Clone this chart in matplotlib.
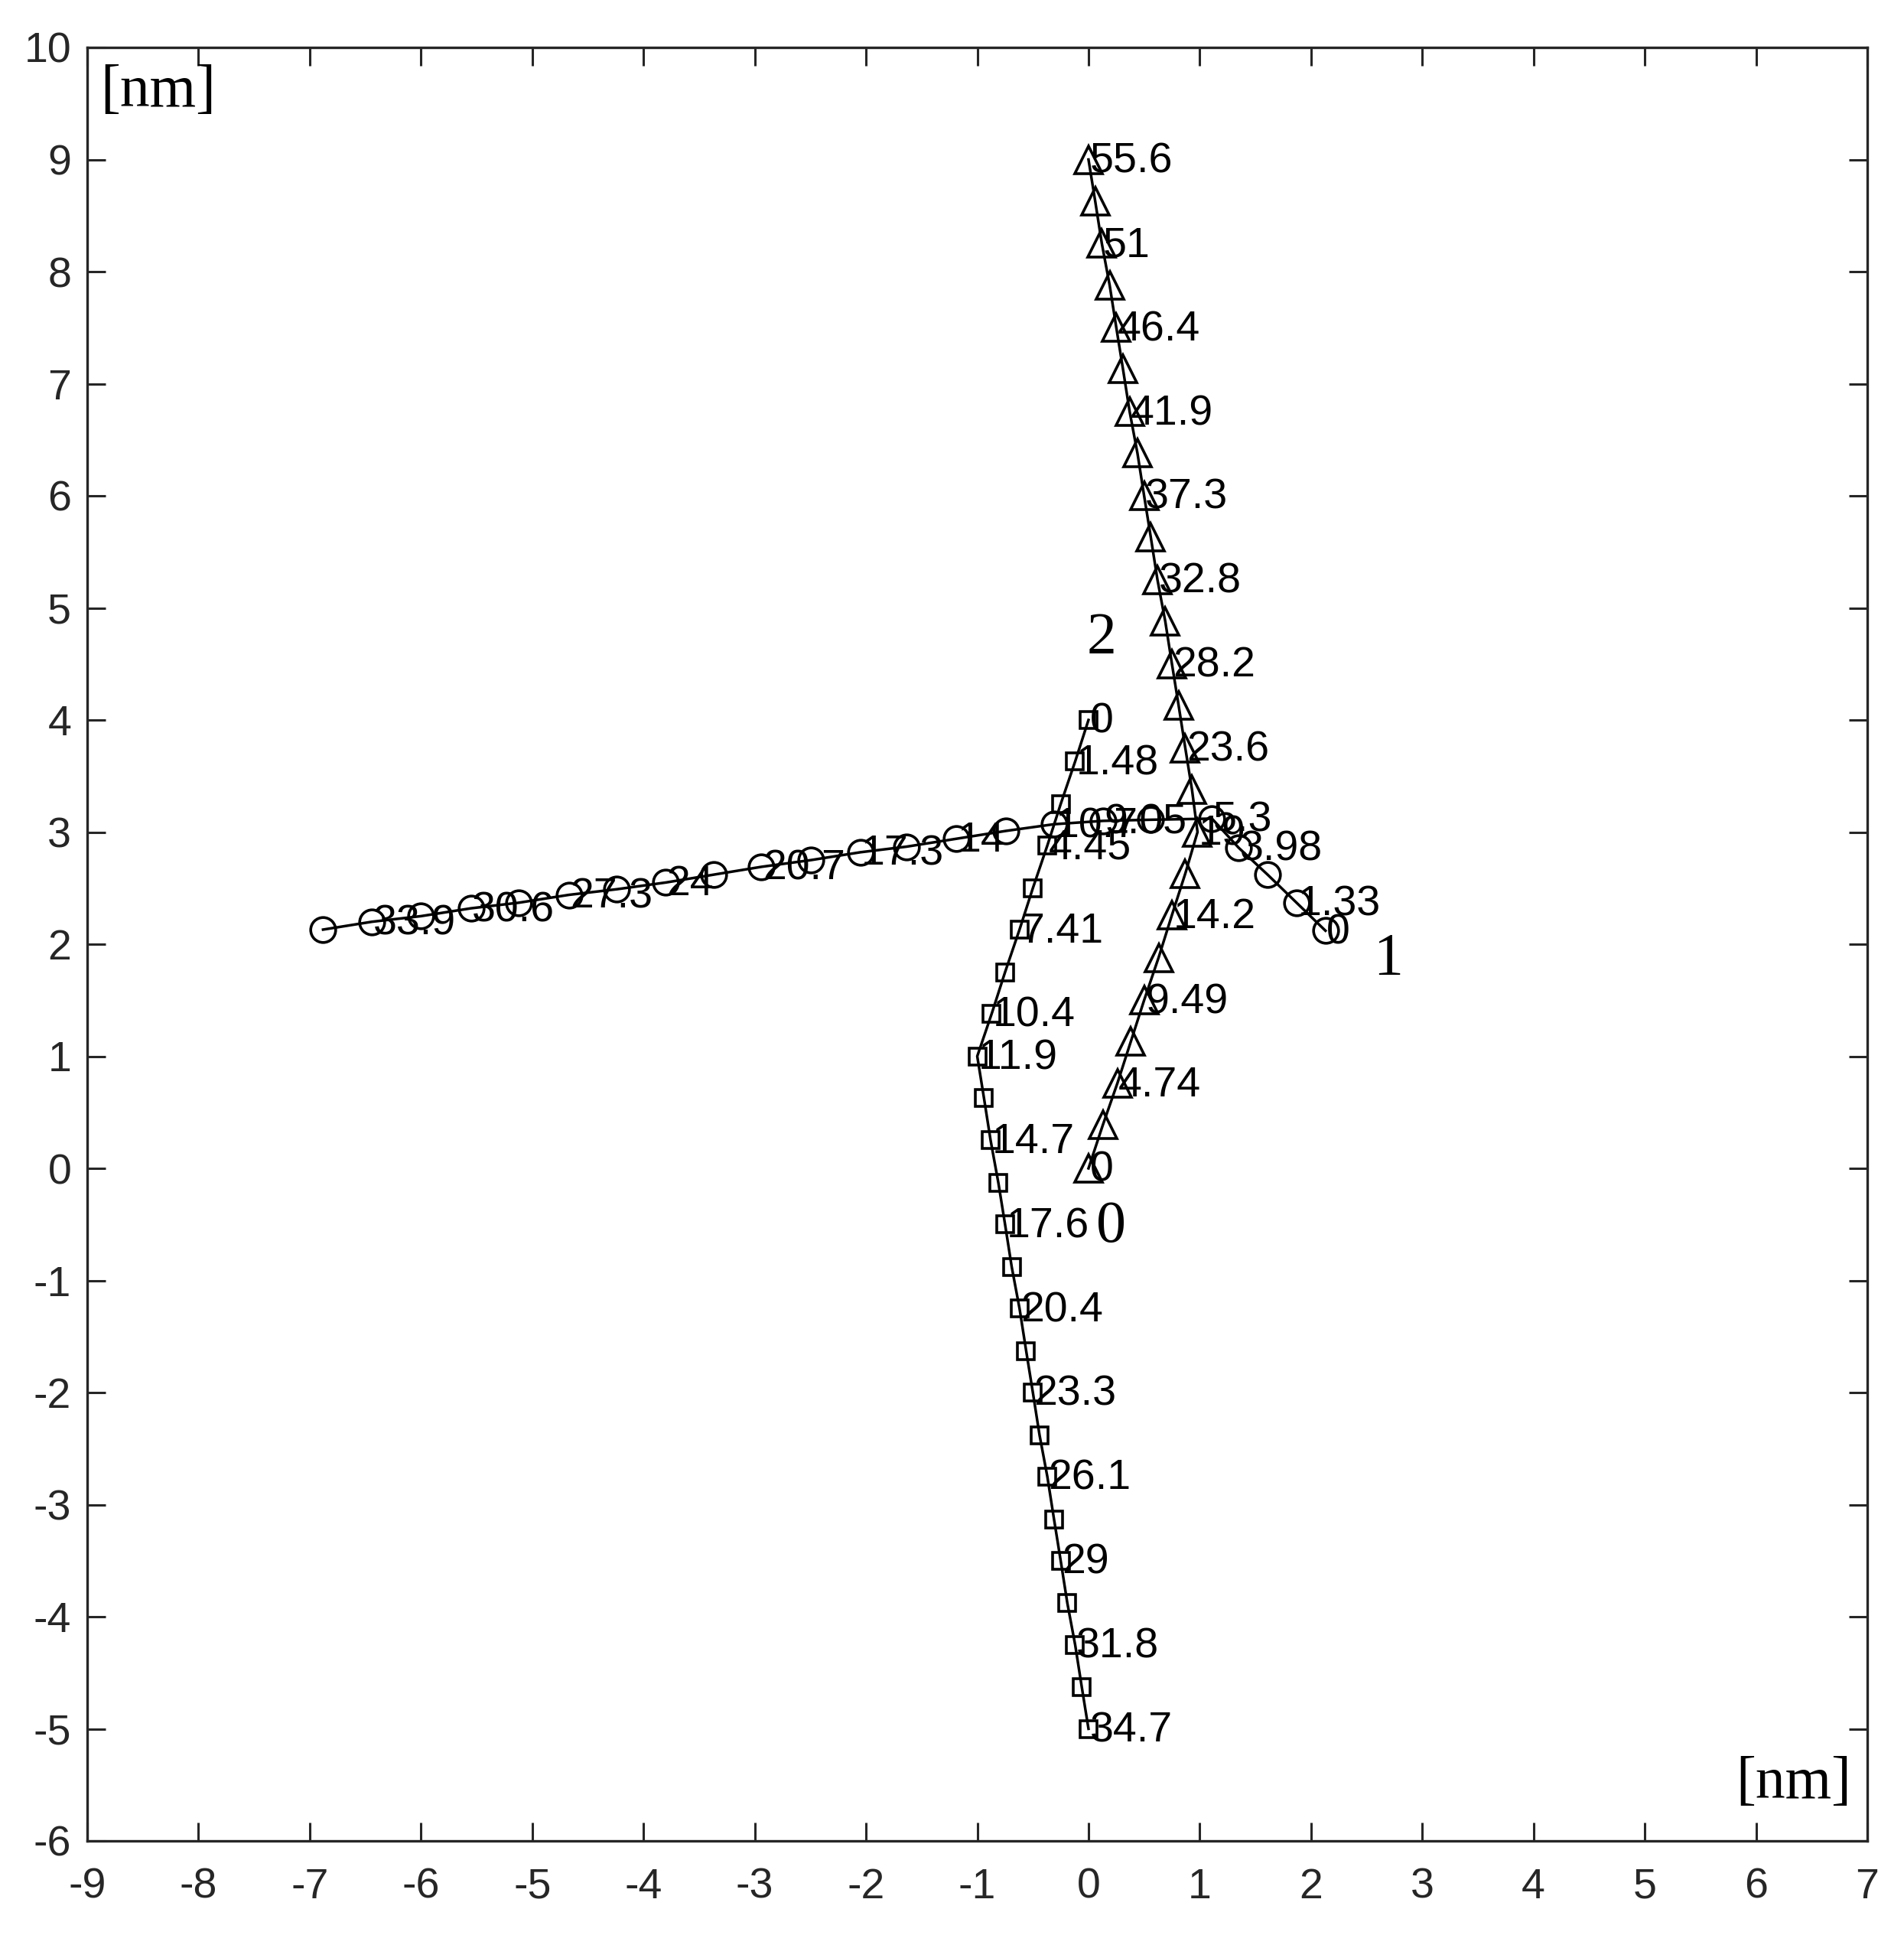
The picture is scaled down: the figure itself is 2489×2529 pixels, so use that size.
import matplotlib
matplotlib.use("Agg")
import matplotlib.pyplot as plt

# ---- data ----
tri_x = [0.0, 0.13, 0.26, 0.38, 0.50, 0.63, 0.75, 0.87, 0.98, 0.93, 0.87, 0.81, 0.75,
         0.69, 0.62, 0.56, 0.50, 0.44, 0.37, 0.31, 0.25, 0.19, 0.12, 0.06, 0.0]
tri_y = [0.0, 0.39, 0.76, 1.13, 1.50, 1.88, 2.26, 2.63, 3.00, 3.38, 3.75, 4.13, 4.50,
         4.88, 5.25, 5.63, 6.00, 6.38, 6.75, 7.13, 7.50, 7.88, 8.25, 8.63, 9.00]
tri_lab = ["0", "", "4.74", "", "9.49", "", "14.2", "", "19", "", "23.6", "", "28.2",
           "", "32.8", "", "37.3", "", "41.9", "", "46.4", "", "51", "", "55.6"]

cir_x = [2.13, 1.87, 1.61, 1.35, 1.11, 0.56, 0.13, -0.31, -0.745, -1.19, -1.635, -2.05,
         -2.495, -2.94, -3.37, -3.80, -4.24, -4.67, -5.12, -5.55, -6.00, -6.44, -6.88]
cir_y = [2.12, 2.37, 2.62, 2.86, 3.12, 3.11, 3.10, 3.07, 3.01, 2.94, 2.87, 2.82,
         2.75, 2.69, 2.62, 2.55, 2.49, 2.44, 2.37, 2.32, 2.25, 2.20, 2.13]
cir_lab = ["0", "1.33", "", "3.98", "5.3", "", "9.05", "10.7", "", "14", "", "17.3",
           "", "20.7", "", "24", "", "27.3", "", "30.6", "", "33.9", ""]

sq_x = [0.0, -0.12, -0.25, -0.37, -0.50, -0.62, -0.75, -0.87, -1.00, -0.94, -0.88, -0.81,
        -0.75, -0.69, -0.62, -0.56, -0.50, -0.44, -0.37, -0.31, -0.25, -0.19, -0.12, -0.06, 0.0]
sq_y = [4.00, 3.63, 3.25, 2.88, 2.50, 2.13, 1.75, 1.38, 1.00, 0.63, 0.25, -0.13,
        -0.50, -0.88, -1.25, -1.63, -2.00, -2.38, -2.75, -3.13, -3.50, -3.88, -4.25, -4.63, -5.00]
sq_lab = ["0", "1.48", "", "4.45", "", "7.41", "", "10.4", "11.9", "", "14.7", "", "17.6",
          "", "20.4", "", "23.3", "", "26.1", "", "29", "", "31.8", "", "34.7"]

series_names = ["0", "1", "2"]
series_name_pos = [(0.2, -0.53), (2.69, 1.86), (0.12, 4.72)]

xticks = list(range(-9, 8))
yticks = list(range(-6, 11))

# ---- style ----
plt.rcParams["axes.unicode_minus"] = False
plt.rcParams["font.family"] = ["Liberation Sans", "DejaVu Sans"]
axcol = "#262626"

fig = plt.figure(figsize=(24.89, 25.29), dpi=100)
ax = fig.add_axes([114 / 2489, 1 - 2406 / 2529, (2441 - 114) / 2489, (2406 - 62) / 2529])

lw = 2.5
mew = 2.6
ax.plot(tri_x, tri_y, color="black", lw=lw, marker="^", ms=26, mfc="none", mec="black", mew=mew)
ax.plot(cir_x, cir_y, color="black", lw=lw, marker="o", ms=23.5, mfc="none", mec="black", mew=mew)
ax.plot(sq_x, sq_y, color="black", lw=lw, marker="s", ms=16.5, mfc="none", mec="black", mew=mew)

lab_fs = 40
for xs, ys, labs in [(tri_x, tri_y, tri_lab), (cir_x, cir_y, cir_lab), (sq_x, sq_y, sq_lab)]:
    for x, y, t in zip(xs, ys, labs):
        if t:
            ax.text(x + 0.01, y - 0.02, t, ha="left", va="center", fontsize=lab_fs, color="black")

for name, (px, py) in zip(series_names, series_name_pos):
    ax.text(px, py, name, ha="center", va="center", fontsize=56,
            family=["Liberation Serif", "DejaVu Serif"], color="black")

ax.text(-8.36, 9.6, "[nm]", ha="center", va="center", fontsize=56,
        family=["Liberation Serif", "DejaVu Serif"], color="black")
ax.text(6.34, -5.49, "[nm]", ha="center", va="center", fontsize=56,
        family=["Liberation Serif", "DejaVu Serif"], color="black")

ax.set_xlim(-9, 7)
ax.set_ylim(-6, 10)
ax.set_xticks(xticks)
ax.set_yticks(yticks)
ax.set_xticklabels([str(v) for v in xticks])
ax.set_yticklabels([str(v) for v in yticks])
ax.tick_params(direction="in", length=17, width=2.2, colors=axcol, labelsize=40,
               top=True, right=True)
ax.tick_params(axis="x", pad=25)
ax.tick_params(axis="y", pad=15)
for s in ax.spines.values():
    s.set_color(axcol)
    s.set_linewidth(2.4)

fig.savefig("out.png", dpi=100, facecolor="white")
